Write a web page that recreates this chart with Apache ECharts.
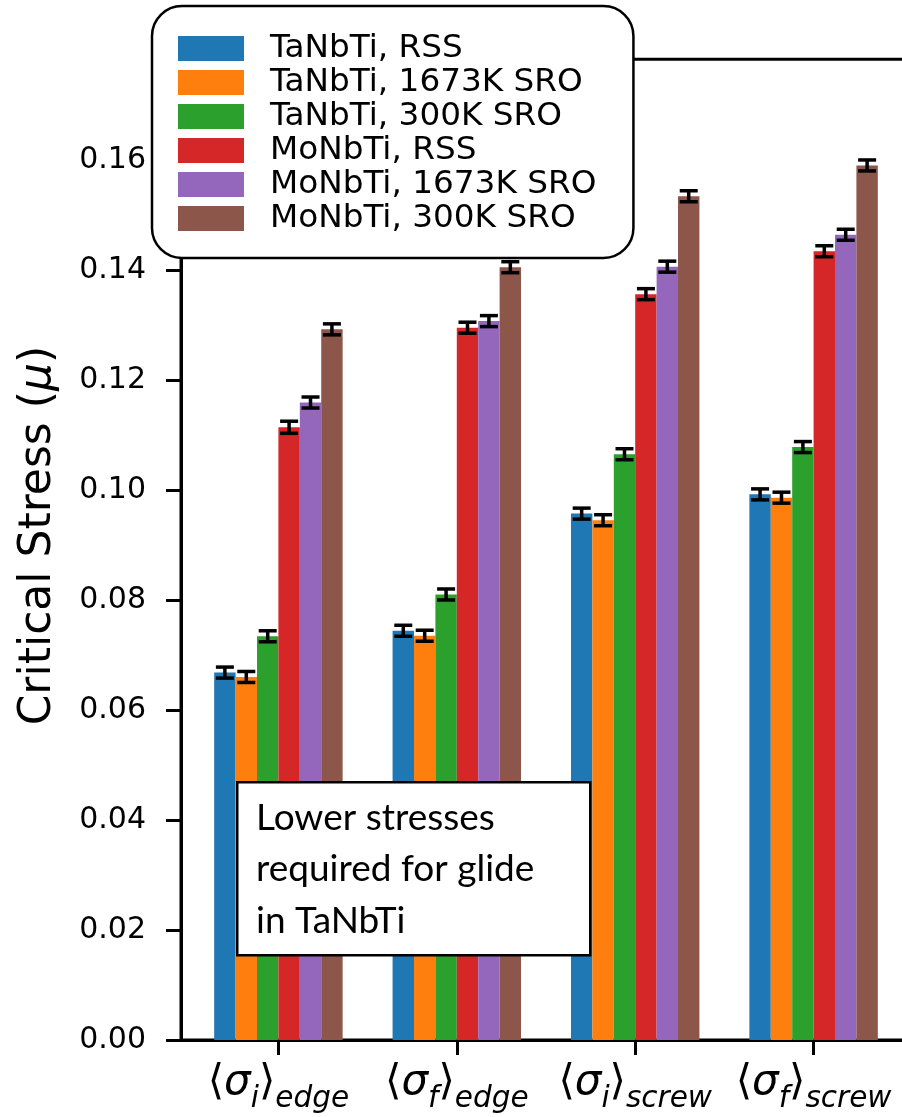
<!DOCTYPE html>
<html><head><meta charset="utf-8">
<script src="https://cdn.jsdelivr.net/npm/echarts@6/dist/echarts.min.js"></script>
<style>html,body{margin:0;padding:0;background:#fff}#c{width:902px;height:1117px}</style>
</head><body><div id="c"></div>
<script>
// ---- data ----
const catSubA = ['i', 'f', 'i', 'f'];
const catSubB = ['edge', 'edge', 'screw', 'screw'];
const seriesNames = ['TaNbTi, RSS', 'TaNbTi, 1673K SRO', 'TaNbTi, 300K SRO', 'MoNbTi, RSS', 'MoNbTi, 1673K SRO', 'MoNbTi, 300K SRO'];
const taRSS  = [0.0668, 0.0744, 0.0957, 0.0992];
const ta1673 = [0.0660, 0.0735, 0.0945, 0.0986];
const ta300  = [0.0734, 0.0810, 0.1065, 0.1078];
const moRSS  = [0.1114, 0.1295, 0.1356, 0.1434];
const mo1673 = [0.1159, 0.1307, 0.1406, 0.1464];
const mo300  = [0.1292, 0.1405, 0.1534, 0.1590];
const taRSSErr  = [0.0010, 0.0010, 0.0010, 0.0010];
const ta1673Err = [0.0010, 0.0010, 0.0010, 0.0010];
const ta300Err  = [0.0010, 0.0010, 0.0010, 0.0010];
const moRSSErr  = [0.0011, 0.0010, 0.0010, 0.0010];
const mo1673Err = [0.0010, 0.0010, 0.0010, 0.0010];
const mo300Err  = [0.0010, 0.0010, 0.0010, 0.0010];
const yTicks = [0, 0.02, 0.04, 0.06, 0.08, 0.10, 0.12, 0.14, 0.16];
const xTicks = [0, 1, 2, 3];

const allValues = [taRSS, ta1673, ta300, moRSS, mo1673, mo300];
const allErrs = [taRSSErr, ta1673Err, ta300Err, moRSSErr, mo1673Err, mo300Err];
const colors = ['#1f77b4', '#ff7f0e', '#2ca02c', '#d62728', '#9467bd', '#8c564b'];
const BW = 0.12;          // bar width in category units
const Y_MAX = 0.1783;
const X_MIN = -0.546, X_MAX = 3.546;

const chart = echarts.init(document.getElementById('c'), null, {renderer: 'canvas'});

const barSeries = seriesNames.map((name, k) => ({
  name,
  type: 'custom',
  coordinateSystem: 'cartesian2d',
  itemStyle: {color: colors[k]},
  encode: {x: 0, y: 1},
  data: allValues[k].map((v, i) => [i + (k - 2.5) * BW, v]),
  z: 2,
  renderItem: (params, api) => {
    const x = api.value(0), y = api.value(1);
    const p0 = api.coord([x - BW / 2, 0]);
    const p1 = api.coord([x + BW / 2, y]);
    return {type: 'rect', shape: {x: p0[0], y: p1[1], width: p1[0] - p0[0], height: p0[1] - p1[1]},
      style: {fill: colors[k]}};
  }
}));

const errData = [];
allValues.forEach((arr, k) => arr.forEach((v, i) => errData.push([i + (k - 2.5) * BW, v, allErrs[k][i]])));

const errSeries = {
  type: 'custom',
  coordinateSystem: 'cartesian2d',
  encode: {x: 0, y: 1},
  data: errData,
  z: 5,
  renderItem: (params, api) => {
    const x = api.value(0), y = api.value(1), e = api.value(2);
    const t = api.coord([x, y + e]);
    const b = api.coord([x, y - e]);
    const cw = 9;
    const st = {stroke: '#000', lineWidth: 3.5};
    return {type: 'group', children: [
      {type: 'line', shape: {x1: t[0], y1: t[1], x2: b[0], y2: b[1]}, style: st},
      {type: 'line', shape: {x1: t[0] - cw, y1: t[1], x2: t[0] + cw, y2: t[1]}, style: st},
      {type: 'line', shape: {x1: b[0] - cw, y1: b[1], x2: b[0] + cw, y2: b[1]}, style: st}
    ]};
  }
};

const option = {
  animation: false,
  backgroundColor: '#fff',
  color: colors,
  grid: {left: 181, top: 59.3, width: 730, height: 980.7, show: true, borderColor: '#000', borderWidth: 3,
    backgroundColor: 'transparent', containLabel: false, outerBoundsMode: 'none'},
  legend: {
    orient: 'vertical', left: 152, top: 6, padding: [26, 37, 23, 26],
    itemWidth: 66, itemHeight: 25, itemGap: 1, icon: 'rect', selectedMode: false,
    backgroundColor: '#fff', borderColor: '#000', borderWidth: 2.5, borderRadius: 30,
    textStyle: {fontFamily: 'DejaVu Sans', fontSize: 32.7, color: '#000', padding: [0, 0, 0, 21]},
    data: seriesNames, z: 10
  },
  xAxis: {
    type: 'value', min: X_MIN, max: X_MAX,
    splitLine: {show: false},
    axisLine: {show: true, onZero: false, lineStyle: {color: '#000', width: 3}},
    axisTick: {show: true, customValues: xTicks, length: 15, inside: false, lineStyle: {color: '#000', width: 3}},
    axisLabel: {
      customValues: xTicks, margin: 22, color: '#000',
      formatter: (v) => {
        const i = Math.round(v);
        return '{m|\u27E8}{g|\u03C3}{s|' + catSubA[i] + '}{m|\u27E9}{s|' + catSubB[i] + '}';
      },
      rich: {
        m: {fontFamily: 'DejaVu Sans', fontSize: 42, lineHeight: 52, verticalAlign: 'top', color: '#000'},
        g: {fontFamily: 'DejaVu Sans', fontSize: 42, fontStyle: 'italic', lineHeight: 52, verticalAlign: 'top', color: '#000'},
        s: {fontFamily: 'DejaVu Sans', fontSize: 29.5, fontStyle: 'italic', lineHeight: 20, verticalAlign: 'bottom', color: '#000'}
      }
    }
  },
  yAxis: {
    type: 'value', min: 0, max: Y_MAX,
    splitLine: {show: false},
    axisLine: {show: true, onZero: false, lineStyle: {color: '#000', width: 3}},
    axisTick: {show: true, customValues: yTicks, length: 15, inside: false, lineStyle: {color: '#000', width: 3}},
    axisLabel: {customValues: yTicks, margin: 35, color: '#000', fontFamily: 'DejaVu Sans', fontSize: 30,
      formatter: (v) => v.toFixed(2)},
    name: '{a|Critical Stress (}{b|\u03BC}{a|)}',
    nameLocation: 'middle', nameRotate: 90, nameGap: 120,
    nameTextStyle: {
      padding: [0, 0, 0, 28],
      rich: {
        a: {fontFamily: 'DejaVu Sans', fontSize: 44, color: '#000'},
        b: {fontFamily: 'DejaVu Sans', fontSize: 44, fontStyle: 'italic', color: '#000'}
      }
    }
  },
  graphic: [
    {type: 'rect', left: 236, top: 781, z: 100, shape: {width: 353, height: 173},
      style: {fill: '#fff', stroke: '#000', lineWidth: 2.5}},
    {type: 'text', left: 256, top: 792, z: 101,
      style: {text: 'Lower stresses\nrequired for glide\nin TaNbTi', font: '37px Lato', lineHeight: 51.5, fill: '#000'}}
  ],
  series: [...barSeries, errSeries]
};
chart.setOption(option);
</script>
</body></html>
